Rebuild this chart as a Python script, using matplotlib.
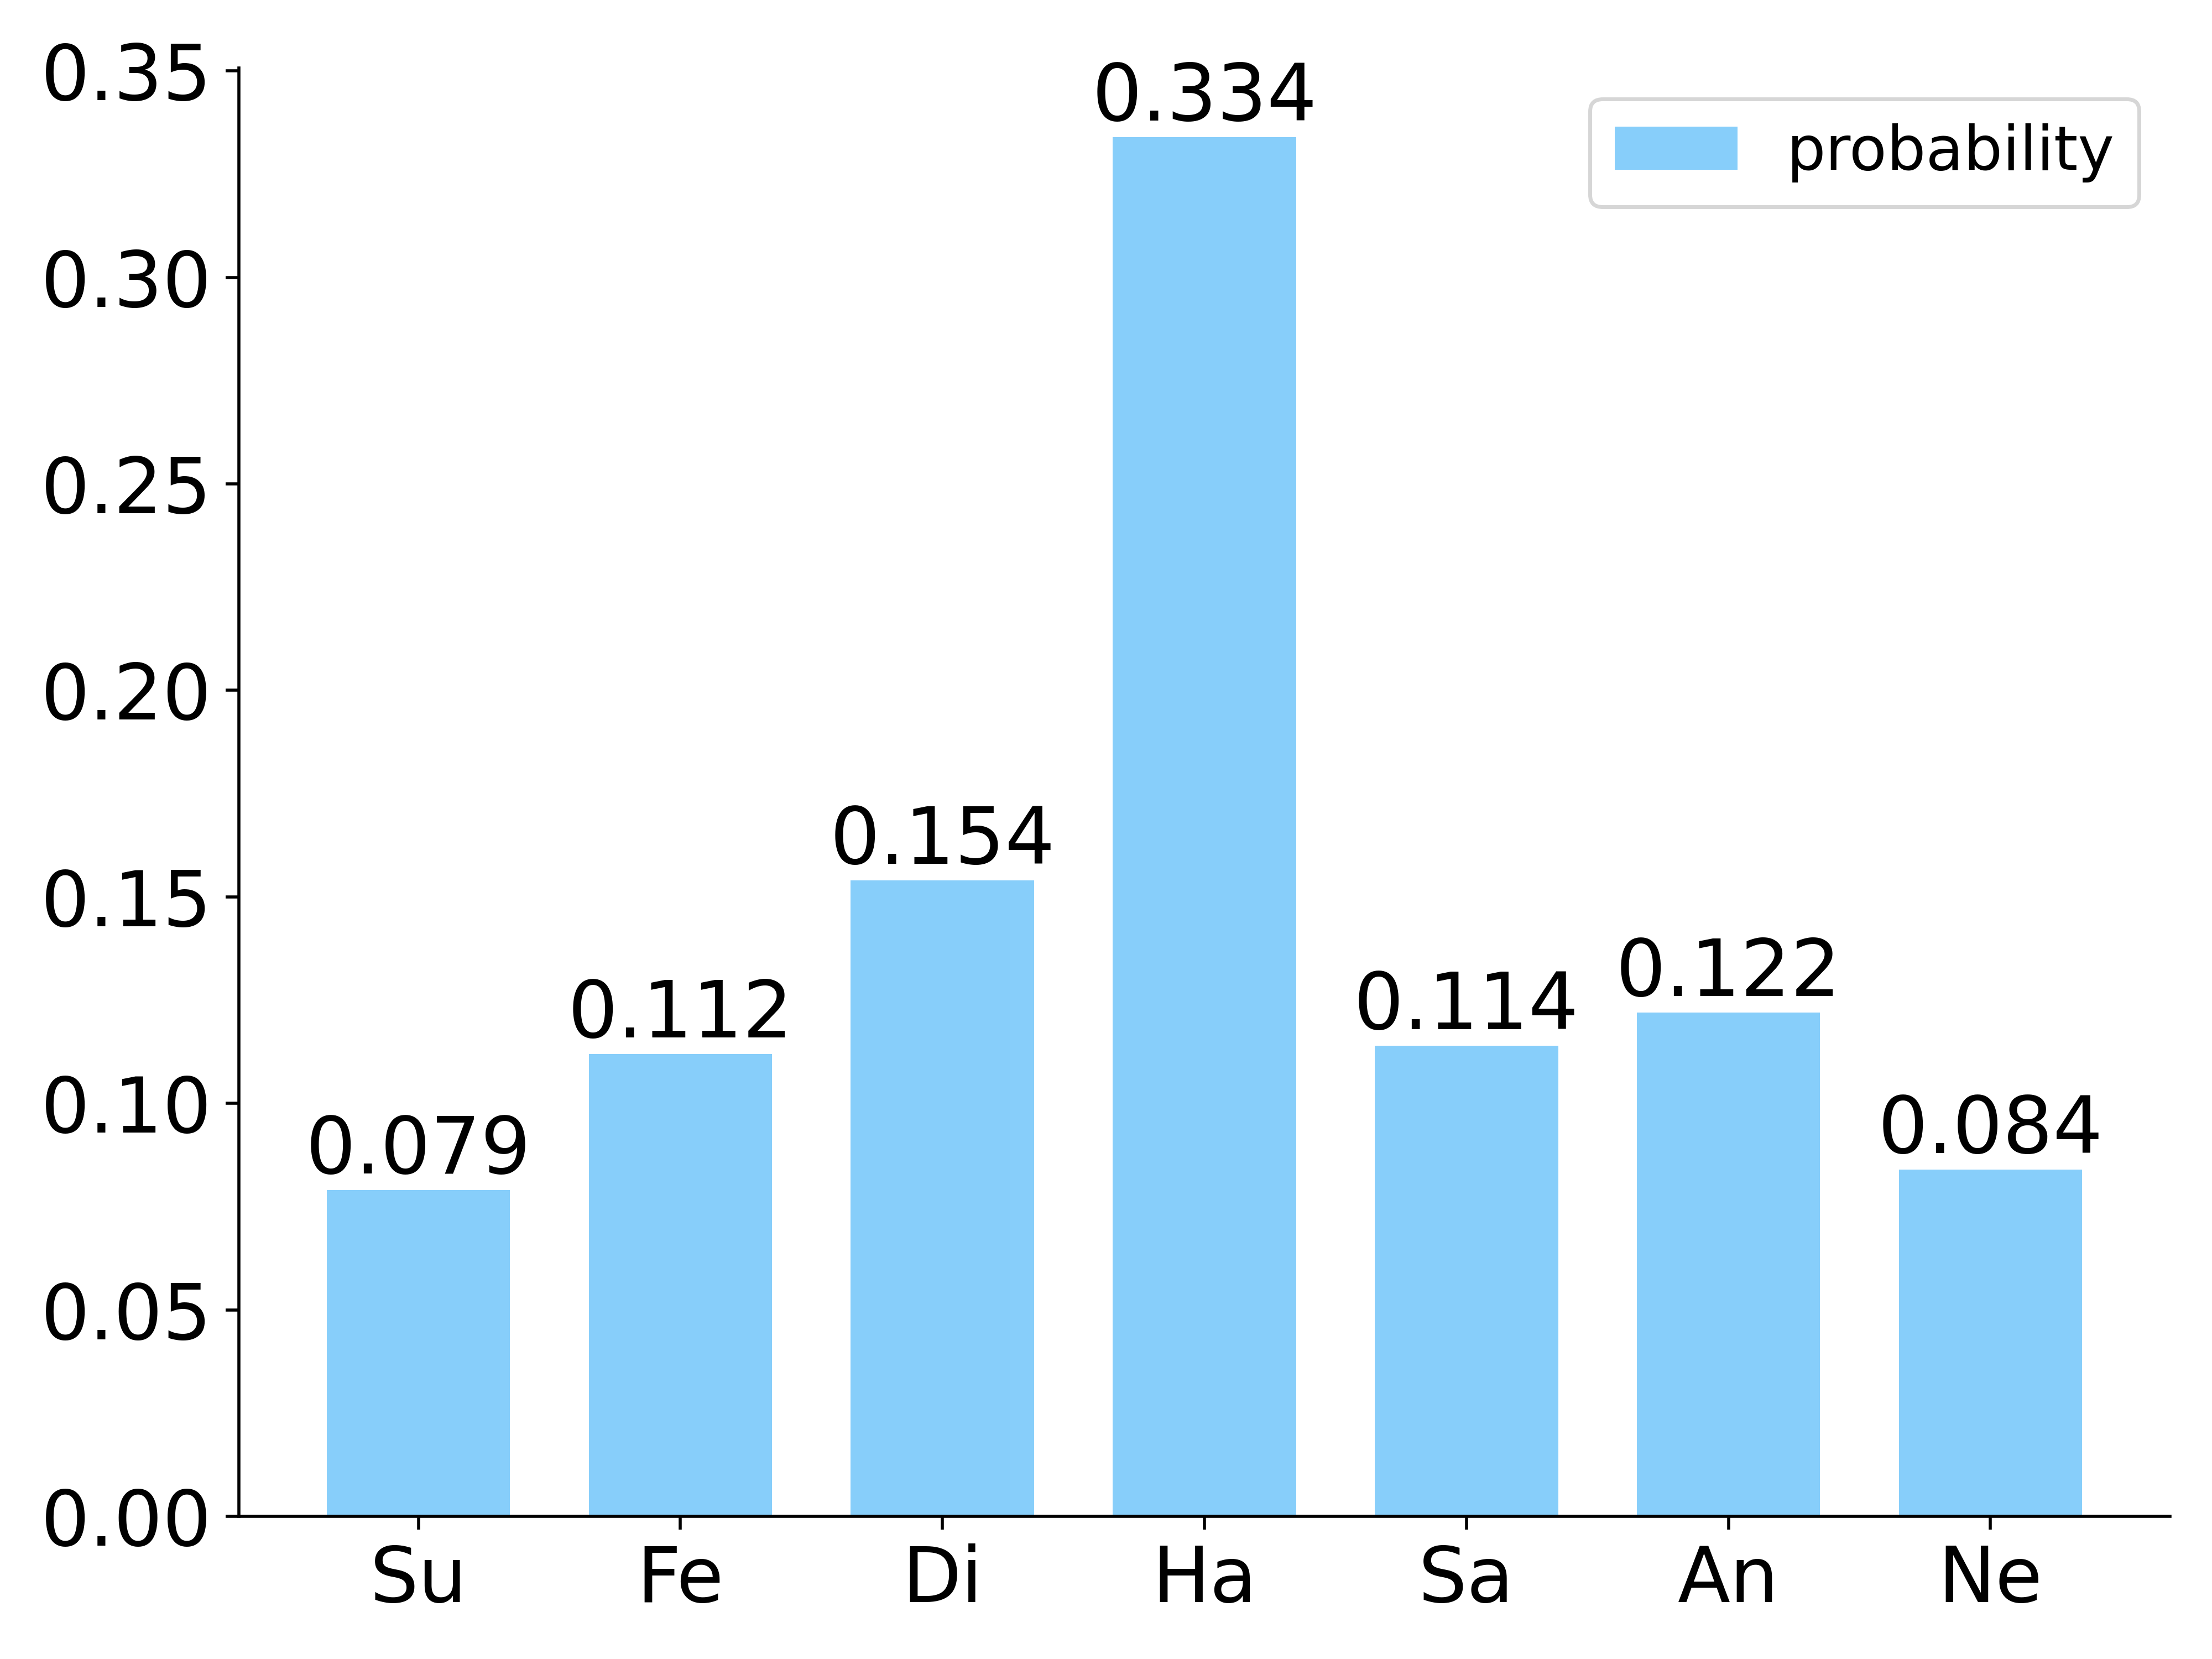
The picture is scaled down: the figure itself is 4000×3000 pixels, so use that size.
import matplotlib
matplotlib.use('Agg')
import matplotlib.pyplot as plt
import numpy as np

emotions = ['Su', 'Fe', 'Di', 'Ha', 'Sa', 'An', 'Ne']
probabilities = [0.079, 0.112, 0.154, 0.334, 0.114, 0.122, 0.084]


def main():
    fig, ax = plt.subplots(figsize=(8, 6), dpi=500)
    x = np.arange(len(emotions))
    bars = ax.bar(x, probabilities, width=0.7, color='lightskyblue',
                  label='probability')
    for bar, value in zip(bars, probabilities):
        ax.text(bar.get_x() + bar.get_width() / 2, bar.get_height(),
                f'{value:.3f}', ha='center', va='bottom', fontsize=20.5)

    ax.set_xticks(x)
    ax.set_xticklabels(emotions)
    ax.tick_params(axis='both', labelsize=20)
    ax.spines['top'].set_visible(False)
    ax.spines['right'].set_visible(False)
    ax.legend(loc='upper right', fontsize=16)

    fig.subplots_adjust(left=0.108, right=0.981, bottom=0.086, top=0.959)
    fig.savefig('out.png')


if __name__ == '__main__':
    main()
